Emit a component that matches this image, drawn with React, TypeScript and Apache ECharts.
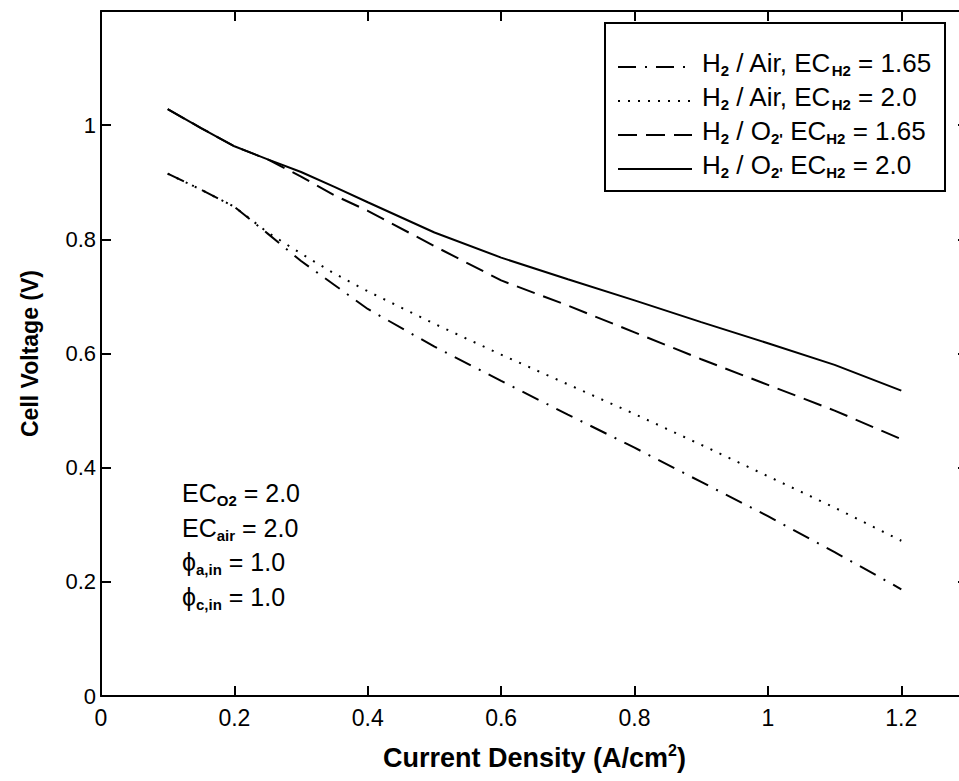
import React, { useEffect, useRef } from "react";
import * as echarts from "echarts";

const currentDensity = [0.1, 0.15, 0.2, 0.25, 0.3, 0.35, 0.4, 0.5, 0.6, 0.7, 0.8, 0.9, 1.0, 1.1, 1.2];
const airEc165 = [0.915, 0.887, 0.857, 0.81, 0.762, 0.72, 0.678, 0.612, 0.552, 0.493, 0.435, 0.375, 0.315, 0.252, 0.187];
const airEc20 = [0.915, 0.887, 0.857, 0.812, 0.775, 0.74, 0.709, 0.652, 0.598, 0.546, 0.494, 0.44, 0.385, 0.33, 0.272];
const o2Ec165 = [1.028, 0.995, 0.963, 0.94, 0.91, 0.877, 0.85, 0.788, 0.728, 0.684, 0.637, 0.59, 0.545, 0.5, 0.45];
const o2Ec20 = [1.028, 0.995, 0.963, 0.94, 0.918, 0.892, 0.865, 0.812, 0.768, 0.73, 0.693, 0.655, 0.618, 0.58, 0.535];

const legendLabels = [
  "{m|H}{s|2}{m| / Air, EC}{s|H2}{m| = 1.65}",
  "{m|H}{s|2}{m| / Air, EC}{s|H2}{m| = 2.0}",
  "{m|H}{s|2}{m| / O}{s|2'}{m| EC}{s|H2}{m| = 1.65}",
  "{m|H}{s|2}{m| / O}{s|2'}{m| EC}{s|H2}{m| = 2.0}",
];
const annotationLines = [
  "{m|EC}{s|O2}{m| = 2.0}",
  "{m|EC}{s|air}{m| = 2.0}",
  "{m|ϕ}{s|a,in}{m| = 1.0}",
  "{m|ϕ}{s|c,in}{m| = 1.0}",
];

const dashes: number[][] = [
  [18, 9, 2, 9],
  [2, 8],
  [19, 9],
  [],
];

const FONT = "Liberation Sans, Arial, Helvetica, sans-serif";

const legendRich = {
  m: { fontSize: 26, lineHeight: 30, fontFamily: FONT, color: "#000", verticalAlign: "middle" },
  s: { fontSize: 15, lineHeight: 15, fontFamily: FONT, fontWeight: "bold", color: "#000", verticalAlign: "bottom" },
};
const noteRich = {
  m: { fontSize: 25, lineHeight: 30, fontFamily: FONT, color: "#000", verticalAlign: "middle" },
  s: { fontSize: 15, lineHeight: 15, fontFamily: FONT, fontWeight: "bold", color: "#000", verticalAlign: "bottom" },
};

export default function App() {
  const ref = useRef<HTMLDivElement>(null);
  useEffect(() => {
    if (!ref.current) return;
    const chart = echarts.init(ref.current, null, { renderer: "svg" });
    const pair = (ys: number[]) => currentDensity.map((x, i) => [x, ys[i]]);
    const seriesData = [airEc165, airEc20, o2Ec165, o2Ec20];
    const series = seriesData.map((ys, i) => ({
      type: "line",
      data: pair(ys),
      showSymbol: false,
      smooth: false,
      z: 2 + i,
      lineStyle: { color: "#000", width: 2, type: dashes[i].length ? dashes[i] : "solid", cap: "butt" },
    }));

    const legX = 605, legY = 23, legW = 340, rowH = 34;
    const graphics: any[] = [
      { type: "rect", shape: { x: legX, y: legY, width: legW, height: 168 }, style: { fill: "#fff", stroke: "#000", lineWidth: 2 }, z: 10 },
    ];
    legendLabels.forEach((lab, i) => {
      const cy = legY + 40 + i * rowH;
      graphics.push({
        type: "line",
        shape: { x1: 618, y1: cy + 4, x2: 692, y2: cy + 4 },
        style: { stroke: "#000", lineWidth: 2, lineDash: dashes[i].length ? dashes[i] : null },
        z: 11,
      });
      graphics.push({
        type: "text",
        x: 702,
        y: cy,
        style: { text: lab, rich: legendRich, verticalAlign: "middle", align: "left" },
        z: 11,
      });
    });
    annotationLines.forEach((lab, i) => {
      graphics.push({
        type: "text",
        x: 182,
        y: 493 + i * 34.5,
        style: { text: lab, rich: noteRich, verticalAlign: "middle", align: "left" },
        z: 11,
      });
    });

    const tick = { inside: true, length: 10, lineStyle: { color: "#000", width: 2 } };
    const line = { onZero: false, lineStyle: { color: "#000", width: 2 } };

    chart.setOption({
      animation: false,
      backgroundColor: "#fff",
      grid: { left: 101, right: 0, top: 11, bottom: 85, containLabel: false },
      xAxis: [
        {
          type: "value",
          min: 0,
          max: 1.3,
          interval: 0.2,
          position: "bottom",
          name: "{b|Current Density (A/cm}{p|2}{b|)}",
          nameLocation: "middle",
          nameGap: 46,
          nameTextStyle: {
            rich: {
              b: { fontSize: 27, fontWeight: "bold", fontFamily: FONT, color: "#000", lineHeight: 32, verticalAlign: "middle" },
              p: { fontSize: 16, fontWeight: "bold", fontFamily: FONT, color: "#000", lineHeight: 16, verticalAlign: "top" },
            },
          },
          axisLine: line,
          axisTick: tick,
          axisLabel: { color: "#000", fontSize: 23, fontFamily: FONT, margin: 10, showMaxLabel: false },
          splitLine: { show: false },
        },
        {
          type: "value",
          min: 0,
          max: 1.3,
          interval: 0.2,
          position: "top",
          axisLine: line,
          axisTick: tick,
          axisLabel: { show: false },
          splitLine: { show: false },
        },
      ],
      yAxis: [
        {
          type: "value",
          min: 0,
          max: 1.2,
          interval: 0.2,
          position: "left",
          name: "Cell Voltage (V)",
          nameLocation: "middle",
          nameGap: 60,
          nameTextStyle: { fontSize: 23, fontWeight: "bold", fontFamily: FONT, color: "#000" },
          axisLine: line,
          axisTick: tick,
          axisLabel: { color: "#000", fontSize: 22, fontFamily: FONT, margin: 5, showMaxLabel: false },
          splitLine: { show: false },
        },
        {
          type: "value",
          min: 0,
          max: 1.2,
          interval: 0.2,
          position: "right",
          axisLine: line,
          axisTick: tick,
          axisLabel: { show: false },
          splitLine: { show: false },
        },
      ],
      series,
      graphic: graphics,
    });
    return () => chart.dispose();
  }, []);
  return <div ref={ref} style={{ position: "fixed", left: 0, top: 0, width: 968, height: 781 }} />;
}
